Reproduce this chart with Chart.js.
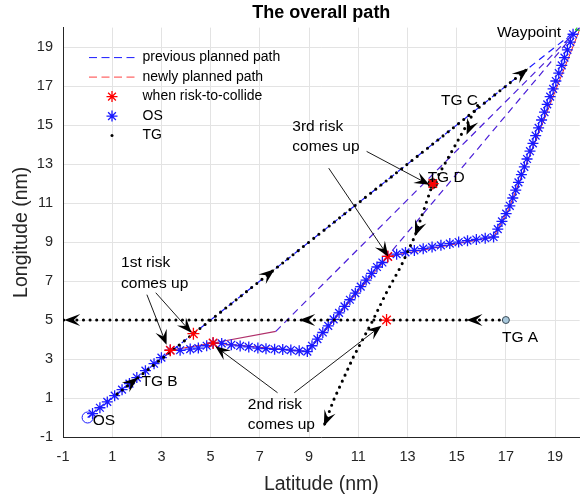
<!DOCTYPE html>
<html>
<head>
<meta charset="utf-8">
<script src="https://cdn.jsdelivr.net/npm/chart.js@4.4.0/dist/chart.umd.min.js"></script>
<style>
  html, body { margin:0; padding:0; background:#fff; }
</style>
</head>
<body>
<canvas id="ch-path" width="587" height="497"></canvas>
<script>
// ====================== DATA ======================
const axisTicks = [-1, 1, 3, 5, 7, 9, 11, 13, 15, 17, 19];

// own ship track (one entry per asterisk)
const osX = [0.2,0.5,0.8,1.1,1.4,1.7,2.0,2.35,2.7,3.0,3.36,
  3.76,4.17,4.5,4.84,5.1,
  5.45,5.84,6.2,6.55,6.92,7.25,7.6,7.93,8.26,8.6,8.93,
  9.12,9.34,9.56,9.78,10.0,10.22,10.44,10.66,10.88,11.1,11.32,11.54,11.76,11.98,12.2,
  12.56,12.92,13.28,13.64,14.0,14.36,14.72,15.08,15.44,15.8,16.16,16.5,
  16.67,16.84,17.01,17.16,17.28,17.4,17.51,17.63,17.75,17.86,17.98,18.1,18.21,18.33,18.45,18.57,18.68,18.8,18.92,19.03,19.15,19.27,19.38,19.5,19.62,19.73];
const osY = [0.2,0.5,0.8,1.12,1.43,1.74,2.05,2.4,2.76,3.07,3.45,
  3.45,3.51,3.56,3.68,3.82,
  3.8,3.73,3.67,3.62,3.56,3.53,3.5,3.49,3.46,3.42,3.38,
  3.68,4.02,4.36,4.7,5.03,5.37,5.7,6.04,6.38,6.71,7.05,7.39,7.72,7.95,8.26,
  8.38,8.47,8.57,8.66,8.74,8.83,8.92,9.0,9.07,9.13,9.2,9.26,
  9.66,10.06,10.46,10.86,11.26,11.66,12.06,12.46,12.86,13.26,13.66,14.06,14.46,14.86,15.26,15.66,16.06,16.46,16.86,17.26,17.66,18.06,18.46,18.86,19.26,19.66];

// followed (new) plan under the asterisks
const osTrackX = [3.36, 5.1, 8.93, 12.2, 16.5, 17.1, 20];
const osTrackY = [3.45, 3.82, 3.38, 8.26, 9.26, 10.66, 19.9];

const prevPlanX = [0, 20];
const prevPlanY = [0, 20];
const newPlan1X = [5.1, 7.65, 20];
const newPlan1Y = [3.82, 4.42, 20];
const newPlan2X = [8.93, 20];
const newPlan2Y = [3.38, 20];

const riskX = [3.36, 4.3, 5.1, 12.15, 12.2, 14.03];
const riskY = [3.45, 4.3, 3.82, 5.0, 8.26, 12.0];

const tgAX = [17, -1];            const tgAY = [5, 5];
const tgBX = [1.2, 17.9];         const tgBY = [1.2, 17.9];
const tgCX = [15.85, 14.2];       const tgCY = [16.0, 12.3];
const tgDX = [14.03, 13.3, 12.75, 12.1, 11.6, 10.8, 10.0, 9.6];
const tgDY = [12.0, 9.3, 7.8, 6.3, 5.0, 3.1, 0.9, -0.45];

const startX = [0, 17, 14.03];
const startY = [0, 5, 12.0];
const waypointX = [20];
const waypointY = [20];

// heading arrows on the target tracks: [fromX, fromY, tipX, tipY]
const tgArrows = [
  [16.0, 5, 15.4, 5], [9.2, 5, 8.6, 5], [-0.3, 5, -0.95, 5],
  [1.5, 1.5, 2.05, 2.05], [7.0, 7.0, 7.6, 7.6], [17.3, 17.3, 17.9, 17.9],
  [15.65, 15.25, 15.4, 14.5],
  [13.55, 10.1, 13.3, 9.3], [9.85, 0.3, 9.6, -0.45]
];
// annotation arrows: [fromX, fromY, tipX, tipY]
const noteArrows = [
  [2.41, 6.30, 3.21, 3.73], [2.77, 6.40, 4.22, 4.35],
  [7.72, 1.27, 5.19, 3.65], [8.4, 1.27, 11.94, 4.71],
  [11.34, 13.65, 13.89, 11.94], [9.8, 12.79, 12.22, 8.26]
];
const noteText = ['1st risk', 'comes up', '2nd risk', 'comes up', '3rd risk', 'comes up',
  'TG A', 'TG B', 'TG C', 'TG D', 'OS', 'Waypoint'];
const noteX = [1.36, 1.36, 6.51, 6.51, 8.32, 8.32, 16.84, 2.19, 14.36, 13.82, 0.21, 16.64];
const noteY = [7.94, 6.86, 0.66, -0.37, 14.91, 13.89, 4.09, 1.84, 16.25, 12.32, -0.15, 19.76];

const legendText = ['previous planned path', 'newly planned path', 'when risk-to-collide', 'OS', 'TG'];

// ====================== CHART ======================
const FONT = '"Liberation Sans", Arial, Helvetica, sans-serif';
const PURPLE = '#4a1ed8';
const pts = (xs, ys) => xs.map((x, i) => ({ x, y: ys[i] }));
const dotted = { borderColor:'#000', borderWidth:3.1, borderDash:[0, 6.6], borderCapStyle:'round', pointRadius:0, showLine:true, fill:false };

function head(ctx, x0, y0, x1, y1, len, wid) {
  const a = Math.atan2(y1 - y0, x1 - x0);
  ctx.save();
  ctx.translate(x1, y1); ctx.rotate(a);
  ctx.beginPath();
  ctx.moveTo(0, 0); ctx.lineTo(-len, -wid / 2); ctx.lineTo(-len * 0.6, 0); ctx.lineTo(-len, wid / 2);
  ctx.closePath(); ctx.fill();
  ctx.restore();
}

function star(ctx, cx, cy, r, color) {
  ctx.save();
  ctx.strokeStyle = color; ctx.lineWidth = 1.3; ctx.setLineDash([]);
  ctx.beginPath();
  for (let k = 0; k < 4; k++) {
    const a = k * Math.PI / 4;
    ctx.moveTo(cx - r * Math.cos(a), cy - r * Math.sin(a));
    ctx.lineTo(cx + r * Math.cos(a), cy + r * Math.sin(a));
  }
  ctx.stroke();
  ctx.restore();
}

const overlay = {
  id: 'overlay',
  afterDatasetsDraw(chart) {
    const { ctx, chartArea: a, scales: { x, y } } = chart;
    const px = v => x.getPixelForValue(v), py = v => y.getPixelForValue(v);
    ctx.save();
    ctx.fillStyle = '#000';
    tgArrows.forEach(r => head(ctx, px(r[0]), py(r[1]), px(r[2]), py(r[3]), 16, 12));

    ctx.strokeStyle = '#000'; ctx.lineWidth = 0.9;
    noteArrows.forEach(r => {
      const x0 = px(r[0]), y0 = py(r[1]), x1 = px(r[2]), y1 = py(r[3]);
      const ang = Math.atan2(y1 - y0, x1 - x0);
      ctx.beginPath(); ctx.moveTo(x0, y0);
      ctx.lineTo(x1 - 8 * Math.cos(ang), y1 - 8 * Math.sin(ang)); ctx.stroke();
      head(ctx, x0, y0, x1, y1, 15, 12);
    });

    ctx.font = '15.5px ' + FONT;
    ctx.textAlign = 'left'; ctx.textBaseline = 'middle';
    noteText.forEach((t, i) => ctx.fillText(t, px(noteX[i]), py(noteY[i])));

    // legend (top-left, inside the axes, no box)
    ctx.font = '14px ' + FONT;
    const lx = a.left, ly = a.top + 30, step = 19.5;
    legendText.forEach((t, i) => {
      const cy = ly + i * step;
      if (i < 2) {
        ctx.strokeStyle = i === 0 ? '#1a1aff' : '#ff4040';
        ctx.lineWidth = 1; ctx.setLineDash([8, 4.5]);
        ctx.beginPath(); ctx.moveTo(lx + 26, cy); ctx.lineTo(lx + 72, cy); ctx.stroke();
        ctx.setLineDash([]);
      } else if (i === 2) {
        star(ctx, lx + 49, cy, 5.5, '#ff0000');
      } else if (i === 3) {
        star(ctx, lx + 49, cy, 5.5, '#1a1aff');
      } else {
        ctx.fillStyle = '#000';
        ctx.beginPath(); ctx.arc(lx + 49, cy, 1.5, 0, Math.PI * 2); ctx.fill();
      }
      ctx.fillStyle = '#000';
      ctx.fillText(t, lx + 79.5, cy);
    });
    ctx.restore();
  }
};

const axisCommon = {
  type: 'linear', min: -1, max: 20,
  afterBuildTicks: s => { s.ticks = axisTicks.map(v => ({ value: v })); },
  grid: { color: '#e3e3e3', lineWidth: 1, drawTicks: false },
  border: { display: true, color: '#262626', width: 1 },
};

new Chart(document.getElementById('ch-path'), {
  type: 'scatter',
  data: {
    datasets: [
      { label: 'Waypoint', data: pts(waypointX, waypointY), pointStyle: 'triangle', pointRadius: 5,
        pointBorderColor: '#00cc00', pointBackgroundColor: 'rgba(0,0,0,0)', pointBorderWidth: 1, order: 0 },
      { label: 'when risk-to-collide', data: pts(riskX, riskY), pointStyle: 'star', pointRadius: 6,
        pointBorderColor: '#ff0000', pointBorderWidth: 1.3, order: 1 },
      { label: 'start', data: pts(startX, startY), pointStyle: 'circle', pointRadius: [5.5, 3.5, 4.5],
        pointBorderColor: ['#1a1aff', '#3a4a55', '#111'], pointBackgroundColor: ['rgba(0,0,0,0)', '#a8c8dc', '#b52020'],
        pointBorderWidth: [1, 1, 1.5], order: 2 },
      { label: 'OS', data: pts(osX, osY), pointStyle: 'star', pointRadius: 5.5,
        pointBorderColor: '#1a1aff', pointBorderWidth: 1.3, order: 4 },
      { label: 'TG A', data: pts(tgAX, tgAY), ...dotted, order: 3 },
      { label: 'TG B', data: pts(tgBX, tgBY), ...dotted, order: 3 },
      { label: 'TG C', data: pts(tgCX, tgCY), ...dotted, order: 3 },
      { label: 'TG D', data: pts(tgDX, tgDY), ...dotted, order: 3 },
      { label: 'OS track', data: pts(osTrackX, osTrackY), showLine: true, borderColor: '#e8202a', borderWidth: 1,
        pointRadius: 0, order: 5 },
      { label: 'newly planned path 1', data: pts(newPlan1X, newPlan1Y), showLine: true, borderColor: PURPLE,
        borderWidth: 1.2, borderDash: [7, 5], pointRadius: 0, order: 6,
        segment: { borderDash: c => c.p0DataIndex === 0 ? [] : [7, 5], borderColor: c => c.p0DataIndex === 0 ? '#b0306a' : PURPLE } },
      { label: 'newly planned path 2', data: pts(newPlan2X, newPlan2Y), showLine: true, borderColor: PURPLE,
        borderWidth: 1.2, borderDash: [7, 5], pointRadius: 0, order: 6 },
      { label: 'previous planned path', data: pts(prevPlanX, prevPlanY), showLine: true, borderColor: '#1a1aff',
        borderWidth: 1.2, borderDash: [7, 5], pointRadius: 0, order: 7 },
    ]
  },
  options: {
    responsive: false,
    animation: false,
    layout: { padding: { left: 0, right: 2, top: 0, bottom: 0 } },
    plugins: {
      legend: { display: false },
      tooltip: { enabled: false },
      title: { display: true, text: 'The overall path', color: '#000', fullSize: false,
        font: { family: FONT, size: 18, weight: 'bold' }, padding: { top: 2, bottom: 4 } }
    },
    scales: {
      x: { ...axisCommon,
        afterFit: s => { s.height = 60; },
        ticks: { color: '#262626', font: { family: FONT, size: 14.5 }, padding: 11, autoSkip: false, maxRotation: 0 },
        title: { display: true, text: 'Latitude (nm)', color: '#262626', font: { family: FONT, size: 19.5 }, padding: { top: 0, bottom: 1 } } },
      y: { ...axisCommon,
        afterFit: s => { s.width = 63; },
        ticks: { color: '#262626', font: { family: FONT, size: 14.5 }, padding: 10, autoSkip: false },
        title: { display: true, text: 'Longitude (nm)', color: '#262626', font: { family: FONT, size: 19.5 }, padding: { top: 10, bottom: 0 } } }
    }
  },
  plugins: [overlay]
});
</script>
</body>
</html>
